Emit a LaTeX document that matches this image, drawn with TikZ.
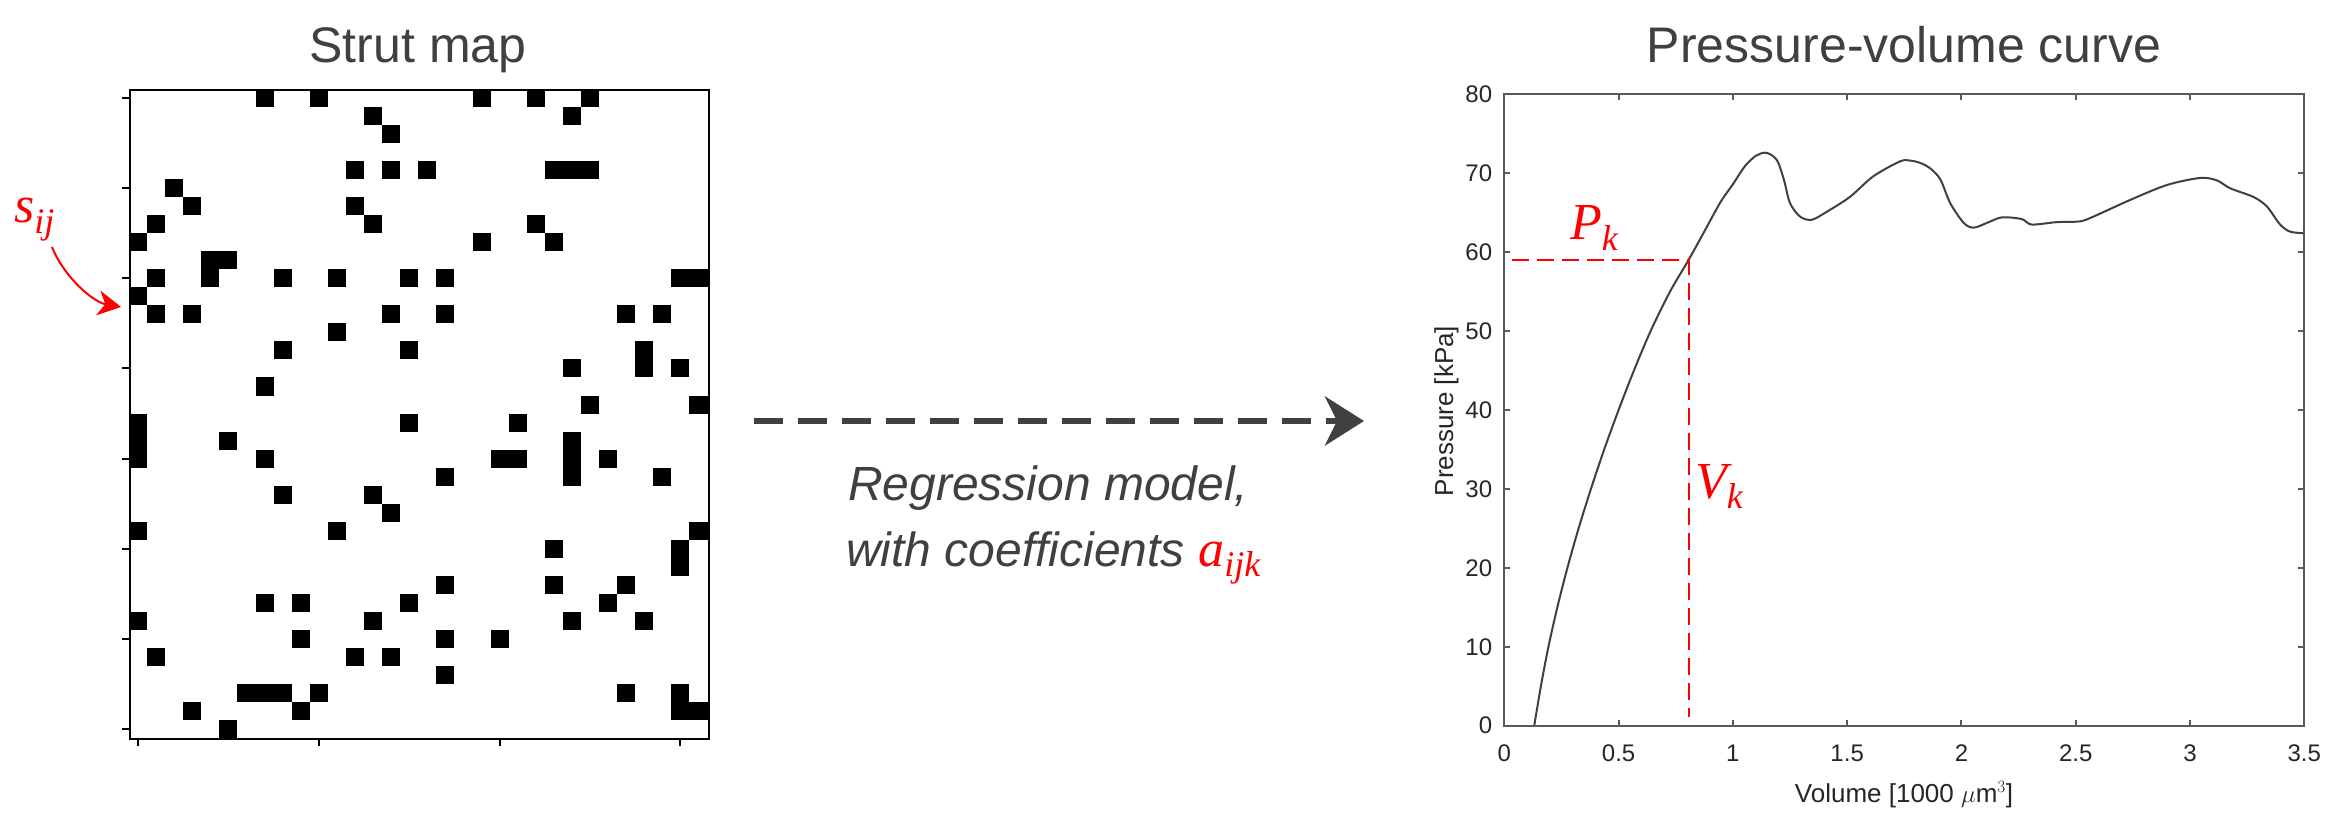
\documentclass[tikz,border=0pt]{standalone}
\usepackage{fontspec}
\setmainfont{Liberation Sans}
\newfontfamily\SerifFam{Liberation Serif}
\usetikzlibrary{arrows.meta,calc}
\definecolor{txtgray}{HTML}{404040}
\definecolor{axgray}{HTML}{5A5A5A}
\definecolor{tickgray}{HTML}{262626}
\definecolor{curvegray}{HTML}{404040}
\newcommand\TitleFnt{\fontsize{50}{60}\selectfont}
\newcommand\MidFnt{\fontsize{48}{58}\selectfont\itshape}
\newcommand\TickFnt{\fontsize{24}{28}\selectfont}
\newcommand\LabFnt{\fontsize{26}{30}\selectfont}
\newcommand\VarFnt{\fontsize{52}{60}\selectfont\SerifFam\itshape}
\newcommand\SubFnt{\fontsize{36}{40}\selectfont\SerifFam\itshape}
\newcommand\RedVar[2]{{\VarFnt #1\raisebox{-0.2em}{\SubFnt #2}}}
\begin{document}
\begin{tikzpicture}[x=1pt,y=-1pt,
  titletext/.style={anchor=base, inner sep=0pt, font=\TitleFnt, text=txtgray},
  midtext/.style={anchor=base west, inner sep=0pt, font=\MidFnt, text=txtgray},
  redvar/.style={anchor=base west, inner sep=0pt, text=red},
  gridline/.style={line width=2pt, black},
  axisline/.style={line width=2pt, axgray},
  ticklab/.style={inner sep=0pt, font=\TickFnt, text=tickgray},
  axlab/.style={inner sep=0pt, font=\LabFnt, text=tickgray},
  pvcurve/.style={line width=2pt, curvegray},
  reddash/.style={line width=2pt, red, dash pattern=on 17pt off 8pt},
  bigarrow/.style={line width=6pt, txtgray, dash pattern=on 28.6pt off 15.4pt,
     -{Stealth[length=39pt,width=49pt,inset=12pt]}},
  redarrow/.style={line width=2pt, red, -{Stealth[length=23pt,width=25pt,inset=7pt]}}
]
\useasboundingbox (0,0) rectangle (2338,826);
\fill[white] (0,0) rectangle (2338,826);

% ---------- Strut map ----------
\node[titletext] (t1) at (418,63) {Strut map};
\foreach \c/\r in {7/0,10/0,19/0,22/0,25/0,
  13/1,24/1, 14/2,
  12/4,14/4,16/4,23/4,24/4,25/4,
  2/5, 3/6,12/6, 1/7,13/7,22/7, 0/8,19/8,23/8, 4/9,5/9,
  1/10,4/10,8/10,11/10,15/10,17/10,30/10,31/10,
  0/11, 1/12,3/12,14/12,17/12,27/12,29/12, 11/13,
  8/14,15/14,28/14, 24/15,28/15,30/15, 7/16, 25/17,31/17,
  0/18,15/18,21/18, 0/19,5/19,24/19,
  0/20,7/20,20/20,21/20,24/20,26/20, 17/21,24/21,29/21,
  8/22,13/22, 14/23, 0/24,11/24,31/24, 23/25,30/25, 30/26,
  17/27,23/27,27/27, 7/28,9/28,15/28,26/28,
  0/29,13/29,24/29,28/29, 9/30,17/30,20/30, 1/31,12/31,14/31,
  17/32, 6/33,7/33,8/33,10/33,27/33,30/33, 3/34,9/34,30/34,31/34, 5/35}
  \fill[black] (129+\c*18.08, 89+\r*18.03) rectangle +(18.08,18.03);
\node[draw, gridline, anchor=north west, inner sep=0pt, minimum width=578.6pt,
      minimum height=649pt] (grid) at (129,89) {};
\foreach \r in {0,5,...,35}
  \draw[gridline] (129, 89+\r*18.03+9.015) -- ++(-7,0);
\foreach \c in {0,10,20,30}
  \draw[gridline] (129+\c*18.08+9.04, 738) -- ++(0,8);

% s_ij label and arrow
\node[redvar] (sij) at (14,223) {\RedVar{s}{ij}};
\coordinate (sijstart) at (52,247);
\coordinate (sijtip) at (121,307);
\draw[redarrow] (sijstart) .. controls +(12,30) and +(-28,-5) .. (sijtip);

% ---------- Middle arrow and text ----------
\coordinate (arrS) at (754,421);
\coordinate (arrE) at (1364,421);
\draw[bigarrow] (arrS) -- (arrE);
\node[midtext] (reg1) at (848,500) {Regression model,};
\node[midtext] (reg2) at (846,566) {with coefficients {\color{red}\RedVar{a}{ijk}}};

% ---------- Pressure-volume plot ----------
\node[titletext] (t2) at (1904,63) {Pressure-volume curve};
\coordinate (O) at (1504.3,725.7);
\coordinate (TR) at (2304.3,94.3);
\begin{scope}[shift={(O)}, x=228.57pt, y=7.8925pt]
  \foreach \v/\l in {0/0,0.5/0.5,1/1,1.5/1.5,2/2,2.5/2.5,3/3,3.5/3.5} {
    \draw[axisline] (\v,0) -- ++(0pt,6pt);
    \draw[axisline] (\v,80) -- ++(0pt,-6pt);
    \node[ticklab, yshift=-27.8pt] at (\v,0) {\l};
  }
  \foreach \p in {0,10,...,80} {
    \draw[axisline] (0,\p) -- ++(6pt,0pt);
    \draw[axisline] (3.5,\p) -- ++(-6pt,0pt);
    \node[ticklab, anchor=east, xshift=-12pt] at (0,\p) {\p};
  }
  \draw[pvcurve] plot[smooth, tension=0.5] coordinates {
    (0.131,0) (0.160,5) (0.193,10) (0.232,15) (0.276,20) (0.325,25)
    (0.379,30) (0.437,35) (0.500,40) (0.567,45) (0.640,50) (0.725,55)
    (0.806,59) (0.871,62.4) (0.945,66.3) (1.000,68.6)
    (1.053,70.9) (1.10,72.2) (1.140,72.6) (1.175,72.2) (1.199,71.3)
    (1.225,69) (1.250,66.2) (1.294,64.5) (1.345,64.1) (1.410,65.1)
    (1.512,67.0) (1.614,69.6) (1.731,71.5) (1.776,71.6) (1.820,71.3)
    (1.864,70.6) (1.908,69.2) (1.951,66.2) (2.010,63.7) (2.053,63.1)
    (2.111,63.7) (2.176,64.4) (2.263,64.2) (2.307,63.5) (2.416,63.8)
    (2.518,63.9) (2.577,64.5) (2.737,66.6) (2.898,68.5) (3.044,69.4)
    (3.117,69.1) (3.175,68.1) (3.277,67.0) (3.336,65.8) (3.394,63.5)
    (3.438,62.6) (3.496,62.4)};
  \coordinate (pk) at (0.808,59);
  \coordinate (hs) at (0.032,59);
  \coordinate (ve) at (0.808,1.1);
\end{scope}
\draw[axisline] (O) rectangle (TR);
\draw[reddash] (hs) -- (pk) -- (ve);
\node[redvar] (pklab) at (1570,240) {\RedVar{P}{k}};
\node[redvar] (vklab) at (1695,498) {\RedVar{V}{k}};
\node[axlab, rotate=90, anchor=base] (ylab) at (1453,411) {Pressure [kPa]};
\node[axlab, anchor=base] (xlab) at (1904,802) {Volume [1000 $\mu$m$^3$]};
\end{tikzpicture}
\end{document}
